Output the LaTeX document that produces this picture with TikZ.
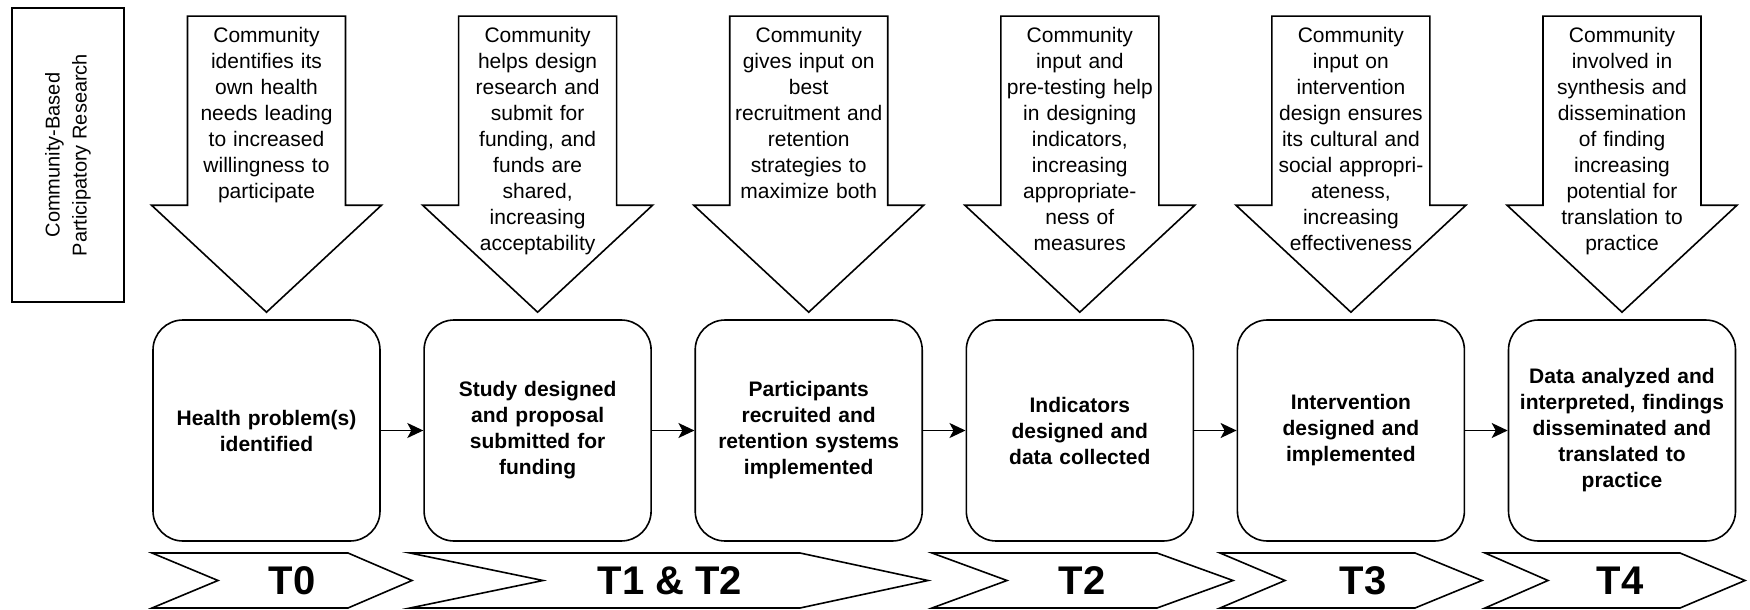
\documentclass[tikz,border=0pt]{standalone}
\usepackage{fontspec}
\setmainfont{Liberation Sans}
\usetikzlibrary{arrows.meta,positioning}

\begin{document}
\begin{tikzpicture}[
    x=1pt, y=-1pt,
    stage/.style={rectangle, rounded corners=30pt, draw=black, line width=1.6pt,
                  minimum width=227pt, minimum height=221pt, inner sep=0pt,
                  text width=215pt, align=center,
                  font=\bfseries\fontsize{21}{26}\selectfont},
    input/.style={draw=black, line width=1.6pt, line join=miter, fill=white},
    note/.style={anchor=north, inner sep=0pt, text width=160pt, align=center,
                 font=\fontsize{21}{26}\selectfont},
    phase/.style={draw=black, line width=1.6pt, line join=miter},
    phaselabel/.style={inner sep=0pt, font=\bfseries\fontsize{40}{40}\selectfont},
    flow/.style={-{Stealth[length=16pt,width=15pt,inset=4pt]}, line width=1.6pt},
    node distance=42.5pt]

    \useasboundingbox (0,0) rectangle (1750,610);

    % side label
    \node[draw=black, line width=1.6pt, rotate=90, minimum width=294pt,
          minimum height=112pt, align=center,
          font=\fontsize{20}{27}\selectfont] (cbpr) at (68,155)
          {Community-Based\\Participatory Research};

    % research stages
    \node[stage] (s1) at (266.5,430.5) {Health problem(s)\\identified};
    \node[stage, right=of s1] (s2) {Study designed\\and proposal\\submitted for\\funding};
    \node[stage, right=of s2] (s3) {Participants\\recruited and\\retention systems\\implemented};
    \node[stage, right=of s3] (s4) {Indicators\\designed and\\data collected};
    \node[stage, right=of s4] (s5) {Intervention\\designed and\\implemented};
    \node[stage, right=of s5] (s6) {Data analyzed and\\interpreted, findings\\disseminated and\\translated to\\practice};

    \foreach \a/\b in {s1/s2, s2/s3, s3/s4, s4/s5, s5/s6}
      \draw[flow] (\a) -- (\b);

    % community input arrows
    \foreach \i in {1,...,6}
      \draw[input, shift={(s\i.north)}] (0,-7) -- (-115,-114) -- (-79,-114)
        -- (-79,-303) -- (79,-303) -- (79,-114) -- (115,-114) -- cycle;

    \node[note] (c1) at ([yshift=292pt]s1.north)
      {Community\\identifies its\\own health\\needs leading\\to increased\\willingness to\\participate};
    \node[note] (c2) at ([yshift=292pt]s2.north)
      {Community\\helps design\\research and\\submit for\\funding, and\\funds are\\shared,\\increasing\\acceptability};
    \node[note] (c3) at ([yshift=292pt]s3.north)
      {Community\\gives input on\\best\\recruitment and\\retention\\strategies to\\maximize both};
    \node[note] (c4) at ([yshift=292pt]s4.north)
      {Community\\input and\\pre-testing help\\in designing\\indicators,\\increasing\\appropriate-\\ness of\\measures};
    \node[note] (c5) at ([yshift=292pt]s5.north)
      {Community\\input on\\intervention\\design ensures\\its cultural and\\social appropri-\\ateness,\\increasing\\effectiveness};
    \node[note] (c6) at ([yshift=292pt]s6.north)
      {Community\\involved in\\synthesis and\\dissemination\\of finding\\increasing\\potential for\\translation to\\practice};

    % translational phases
    \draw[phase] (152,553) -- (348,553) -- (412,580.5) -- (348,608) -- (152,608) -- (218,580.5) -- cycle;
    \node[phaselabel] (t0) at (292,580.5) {T0};
    \draw[phase] (410,553) -- (800,553) -- (928,580.5) -- (800,608) -- (410,608) -- (543,580.5) -- cycle;
    \node[phaselabel] (t12) at (670,580.5) {T1 \& T2};
    \draw[phase] (932,553) -- (1157,553) -- (1233,580.5) -- (1157,608) -- (932,608) -- (1007,580.5) -- cycle;
    \node[phaselabel] (t2) at (1082,580.5) {T2};
    \draw[phase] (1220,553) -- (1415,553) -- (1482,580.5) -- (1415,608) -- (1220,608) -- (1285,580.5) -- cycle;
    \node[phaselabel] (t3) at (1363,580.5) {T3};
    \draw[phase] (1485,553) -- (1680,553) -- (1745,580.5) -- (1680,608) -- (1485,608) -- (1548,580.5) -- cycle;
    \node[phaselabel] (t4) at (1620,580.5) {T4};
\end{tikzpicture}
\end{document}
